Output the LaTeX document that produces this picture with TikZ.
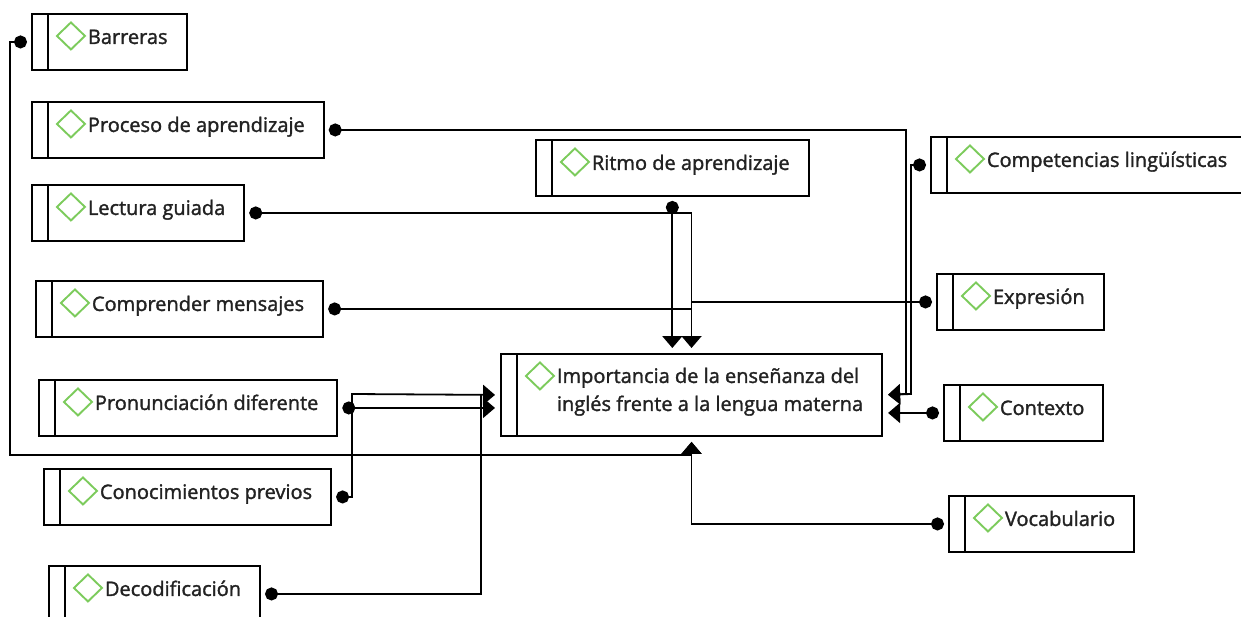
\documentclass[tikz,border=0pt]{standalone}
\usepackage{fontspec}
\setmainfont{Open Sans}[BoldFont={*}, BoldFeatures={FakeBold=1.6}]
\usetikzlibrary{arrows.meta}
\definecolor{ink}{HTML}{222222}
\definecolor{gem}{HTML}{7CCB5C}

\begin{document}
\begin{tikzpicture}[
    x=1pt, y=-1pt,
    box/.style={draw, line width=1.9pt, anchor=north west, inner xsep=19pt,
      inner ysep=0pt, text=ink, font=\fontsize{20}{28}\selectfont\bfseries,
      execute at begin node={\hspace*{37pt}},
      path picture={
        \draw [line width=1.9pt] ([xshift=16pt]path picture bounding box.north west)
        -- ([xshift=16pt]path picture bounding box.south west);
        \draw [gem, line width=1.9pt]
        ([xshift=39pt, yshift=-22pt]path picture bounding box.north west)
        +(-14pt, 0) -- +(0, 13.5pt) -- +(14pt, 0) -- +(0, -13.5pt) -- cycle;
      }},
    idea/.style={box, text height=30pt, text depth=26pt},
    hub/.style={box, text height=29pt, text depth=53pt},
    link/.style={line width=1.8pt, shorten <=4pt, shorten >=5pt,
      {Circle[length=13pt]}-{Triangle[width=20pt, length=12pt]}},
    tie/.style={line width=1.8pt, shorten <=4pt, {Circle[length=13pt]}-},
  ]

  \useasboundingbox (0, 0) rectangle (1241, 617);
  \clip (0, 0) rectangle (1241, 617);

  \node [idea] (barr) at (31, 13) {Barreras};
  \node [idea] (proc) at (31, 101) {Proceso de aprendizaje};
  \node [idea] (lect) at (31, 184) {Lectura guiada};
  \node [idea] (compr) at (35, 280) {Comprender mensajes};
  \node [idea] (pron) at (38, 379) {Pronunciación diferente};
  \node [idea] (conoc) at (43, 468) {Conocimientos previos};
  \node [idea] (decod) at (48, 565) {Decodificación};
  \node [idea] (ritmo) at (535, 139) {Ritmo de aprendizaje};

  \node [hub] (imp) at (500, 353) {\begin{tabular}[t]{@{}l@{}}
      Importancia de la enseñanza del\\
      inglés frente a la lengua materna
    \end{tabular}};

  \node [idea] (ling) at (930, 136) {Competencias lingüísticas};
  \node [idea] (expr) at (936, 273) {Expresión};
  \node [idea] (ctx) at (943, 384) {Contexto};
  \node [idea] (vocab) at (948, 495) {Vocabulario};

  % bottom
  \draw [link] (barr.west) -| (10, 455) -| (imp.south);
  \draw [link] (vocab.west) -| (imp.south);

  % right
  \draw [link] (proc.east) -| (906, 394) -- (imp.east);
  \draw [link] (ling.west) -| (911, 394) -- (imp.east);
  \draw [link] (ctx.west) -- (ctx.west -| imp.east);

  % top
  \draw [link] (ritmo.south) -- (ritmo.south |- imp.north);
  \draw [link] (lect.east) -| (imp.north);
  \draw [tie] (compr.east) -- (compr.east -| imp.north);
  \draw [tie] (expr.west) -- (expr.west -| imp.north);

  % left
  \draw [link] (pron.east) -- (pron.east -| imp.west);
  \draw [link] (conoc.east) -| (352, 394) -- (imp.west);
  \draw [tie] (decod.east) -| (481, 394);

\end{tikzpicture}
\end{document}
